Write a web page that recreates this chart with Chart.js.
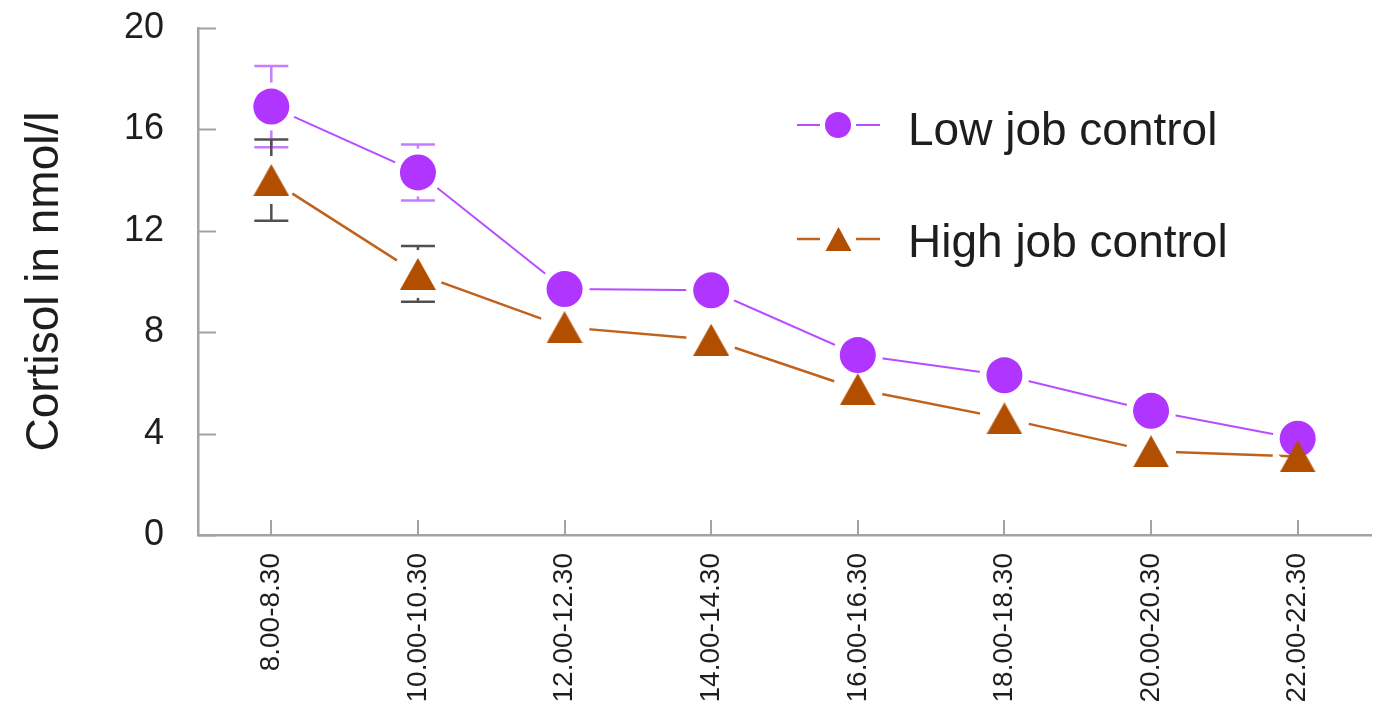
<!DOCTYPE html>
<html>
<head>
<meta charset="utf-8">
<script src="https://cdn.jsdelivr.net/npm/chart.js@4/dist/chart.umd.min.js"></script>
<style>
  html, body { margin: 0; padding: 0; background: #fff; overflow: hidden; }
  #wrap { width: 1376px; height: 705px; overflow: hidden; }
  canvas { display: block; }
</style>
</head>
<body>
<div id="wrap"><canvas id="c" width="1389" height="705"></canvas></div>
<script>
// Sampling windows (time of day)
const timeSlots = ['8.00-8.30', '10.00-10.30', '12.00-12.30', '14.00-14.30',
                   '16.00-16.30', '18.00-18.30', '20.00-20.30', '22.00-22.30'];

// Mean salivary cortisol (nmol/l)
const lowControl  = [16.9, 14.3, 9.7, 9.65, 7.1, 6.3, 4.9, 3.8];
const highControl = [14.0, 10.3, 8.2, 7.7, 5.75, 4.6, 3.3, 3.1];

// Error bar half-widths (only reported for the two morning samples)
const lowControlErr  = [1.6, 1.1, null, null, null, null, null, null];
const highControlErr = [1.6, 1.1, null, null, null, null, null, null];

const yTicks = [0, 4, 8, 12, 16, 20];
const seriesNames = ['Low job control', 'High job control'];

const FONT = '"Liberation Sans", Arial, Helvetica, sans-serif';
const PURPLE = '#b035ff';
const PURPLE_LINE = '#b84dff';
const PURPLE_ERR = '#c77bff';
const BROWN = '#b24e00';
const BROWN_LINE = '#c0621c';
const AXIS = '#a3a3a3';
const TEXT = '#1e1e1e';

// Bounding-box-centred triangle marker
function triangleImage(w, h, color) {
  const cv = document.createElement('canvas');
  cv.width = w; cv.height = h;
  const g = cv.getContext('2d');
  g.fillStyle = color;
  g.beginPath();
  g.moveTo(0, h);
  g.lineTo(w / 2, 0);
  g.lineTo(w, h);
  g.closePath();
  g.fill();
  return cv;
}
const triMarker = triangleImage(36, 32, BROWN);

// Lines stop short of the markers: clip out a disc around every marker
const GAP_R = 25;
function markerHolesClip(chart, r) {
  const ctx = chart.ctx;
  ctx.beginPath();
  ctx.rect(0, 0, chart.width, chart.height);
  chart.data.datasets.forEach((ds, i) => {
    if (!ds.isMarker) return;
    chart.getDatasetMeta(i).data.forEach(pt => {
      ctx.moveTo(pt.x + r, pt.y);
      ctx.arc(pt.x, pt.y, r, 0, Math.PI * 2);
    });
  });
  ctx.clip('evenodd');
}

const gapLines = {
  id: 'gapLines',
  beforeDatasetDraw(chart, args) {
    const ds = chart.data.datasets[args.index];
    if (ds.isMarker) return;
    chart.ctx.save();
    markerHolesClip(chart, GAP_R);
  },
  afterDatasetDraw(chart, args) {
    const ds = chart.data.datasets[args.index];
    if (ds.isMarker) return;
    chart.ctx.restore();
  }
};

const errorBars = {
  id: 'errorBars',
  beforeDatasetsDraw(chart) {
    const ctx = chart.ctx;
    const y = chart.scales.y;
    const sets = [
      { means: lowControl, errs: lowControlErr, color: PURPLE_ERR, meta: chart.getDatasetMeta(1) },
      { means: highControl, errs: highControlErr, color: '#505050', meta: chart.getDatasetMeta(0) }
    ];
    ctx.save();
    markerHolesClip(chart, 24);
    ctx.lineWidth = 2.5;
    sets.forEach(s => {
      ctx.strokeStyle = s.color;
      s.errs.forEach((e, i) => {
        if (e == null) return;
        const x = s.meta.data[i].x;
        const yTop = y.getPixelForValue(s.means[i] + e);
        const yBot = y.getPixelForValue(s.means[i] - e);
        ctx.beginPath();
        ctx.moveTo(x, yTop); ctx.lineTo(x, yBot);
        ctx.moveTo(x - 17, yTop); ctx.lineTo(x + 17, yTop);
        ctx.moveTo(x - 17, yBot); ctx.lineTo(x + 17, yBot);
        ctx.stroke();
      });
    });
    ctx.restore();
  }
};

// Inward-pointing tick marks on both axes
const innerTicks = {
  id: 'innerTicks',
  afterDatasetsDraw(chart) {
    const ctx = chart.ctx;
    const { x, y } = chart.scales;
    const area = chart.chartArea;
    ctx.save();
    ctx.strokeStyle = AXIS;
    ctx.lineWidth = 2;
    ctx.beginPath();
    y.ticks.forEach((t, i) => {
      const py = Math.round(y.getPixelForTick(i)) + 0.5;
      ctx.moveTo(area.left, py); ctx.lineTo(area.left + 18, py);
    });
    x.ticks.forEach((t, i) => {
      const px = Math.round(x.getPixelForTick(i));
      ctx.moveTo(px, area.bottom); ctx.lineTo(px, area.bottom - 15);
    });
    ctx.stroke();
    ctx.restore();
  }
};

// Legend in the upper right of the plot
const legendBox = {
  id: 'legendBox',
  afterDraw(chart) {
    const ctx = chart.ctx;
    ctx.save();
    const rows = [
      { cy: 125, line: PURPLE_LINE, lw: 2, marker: 'circle', text: seriesNames[0], base: 145 },
      { cy: 239, line: BROWN_LINE, lw: 2.5, marker: 'triangle', text: seriesNames[1], base: 257 }
    ];
    rows.forEach(r => {
      ctx.strokeStyle = r.line;
      ctx.lineWidth = r.lw;
      ctx.beginPath();
      ctx.moveTo(797, r.cy); ctx.lineTo(820, r.cy);
      ctx.moveTo(856, r.cy); ctx.lineTo(880, r.cy);
      ctx.stroke();
      if (r.marker === 'circle') {
        ctx.fillStyle = PURPLE;
        ctx.beginPath();
        ctx.arc(838, r.cy, 13, 0, Math.PI * 2);
        ctx.fill();
      } else {
        ctx.fillStyle = BROWN;
        ctx.beginPath();
        ctx.moveTo(825.5, r.cy + 12);
        ctx.lineTo(838.5, r.cy - 12);
        ctx.lineTo(851.5, r.cy + 12);
        ctx.closePath();
        ctx.fill();
      }
      ctx.fillStyle = TEXT;
      ctx.font = '46px ' + FONT;
      ctx.textAlign = 'left';
      ctx.textBaseline = 'alphabetic';
      ctx.fillText(r.text, 908, r.base);
    });
    ctx.restore();
  }
};

new Chart(document.getElementById('c'), {
  type: 'line',
  data: {
    labels: timeSlots,
    datasets: [
      { label: seriesNames[1], data: highControl, isMarker: true, showLine: false, order: 0,
        pointStyle: triMarker, pointRadius: 18, backgroundColor: BROWN, borderWidth: 0 },
      { label: seriesNames[0], data: lowControl, isMarker: true, showLine: false, order: 1,
        pointStyle: 'circle', pointRadius: 18, pointBackgroundColor: PURPLE,
        pointBorderColor: PURPLE, pointBorderWidth: 0 },
      { label: seriesNames[1] + ' line', data: highControl, order: 2, borderColor: BROWN_LINE,
        borderWidth: 2.5, pointRadius: 0, tension: 0, fill: false },
      { label: seriesNames[0] + ' line', data: lowControl, order: 3, borderColor: PURPLE_LINE,
        borderWidth: 2, pointRadius: 0, tension: 0, fill: false }
    ]
  },
  options: {
    responsive: false,
    animation: false,
    events: [],
    layout: { padding: { top: 28, right: 0, bottom: 0, left: 0 } },
    plugins: { legend: { display: false }, tooltip: { enabled: false } },
    scales: {
      x: {
        type: 'category',
        offset: true,
        grid: { display: true, drawOnChartArea: false, drawTicks: false },
        border: { display: true, color: AXIS, width: 2.5 },
        ticks: {
          color: TEXT, font: { family: FONT, size: 28 },
          minRotation: 90, maxRotation: 90, padding: 18, autoSkip: false
        },
        afterFit(scale) { scale.height = 170; }
      },
      y: {
        min: 0, max: 20,
        afterBuildTicks(scale) { scale.ticks = yTicks.map(v => ({ value: v })); },
        grid: { drawOnChartArea: false, drawTicks: false },
        border: { display: true, color: AXIS, width: 2.5 },
        ticks: { color: TEXT, font: { family: FONT, size: 36 }, padding: 34 },
        title: {
          display: true, text: 'Cortisol in nmol/l', color: TEXT,
          font: { family: FONT, size: 46 }, padding: { top: 18, bottom: 0 }
        },
        afterFit(scale) {
          scale.width = 198;
          scale.paddingTop = 0;
          scale.paddingBottom = 0;
        }
      }
    }
  },
  plugins: [gapLines, errorBars, innerTicks, legendBox]
});
</script>
</body>
</html>
